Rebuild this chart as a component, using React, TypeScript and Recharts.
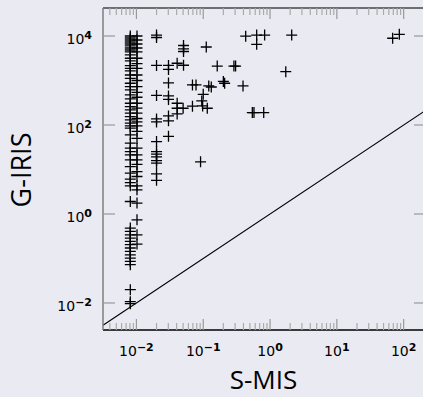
import React from 'react';
import { ScatterChart, Scatter, XAxis, YAxis, ReferenceLine } from 'recharts';

// ---------- data ----------
const xMajorTicks = [0.01, 0.1, 1, 10, 100];
const xMajorLabels = ['\u22122', '\u22121', '0', '1', '2'];
const yMajorTicks = [0.01, 1, 100, 10000];
const yMajorLabels = ['\u22122', '0', '2', '4'];
const minorMultipliers = [2, 3, 4, 5, 6, 7, 8, 9];
const minorDecades = [0.001, 0.01, 0.1, 1, 10, 100];
const xDomain = [0.00316, 216];
const yDomain = [0.00247, 42600];

const colAX = 0.0081;
const colAY = [10000, 9020, 8130, 7340, 6620, 5970, 5380, 4850, 4380, 3750, 3160, 2750, 2150, 1880, 1640, 1330, 1120, 867, 728, 614, 474, 385, 308, 259, 218, 184, 155, 130, 110, 95.5, 84.8, 60, 39.1, 30.1, 25.3, 21.3, 16.5, 11.6, 8.28, 6.07, 5.09, 4.3, 1.91, 0.483, 0.405, 0.341, 0.288, 0.242, 0.204, 0.172, 0.144, 0.121, 0.102, 0.0859, 0.0725, 0.0199, 0.0107, 0.00964];
const colBX = 0.0102;
const colBY = [10000, 8130, 6620, 5380, 4380, 3160, 2400, 1880, 1330, 1000, 728, 540, 420, 308, 240, 184, 140, 117, 95.5, 72, 50, 30.1, 21.3, 16.5, 13, 9.0, 6.95, 4.3, 3.49, 1.76, 0.741, 0.341, 0.211];
const col2X = 0.02;
const col2Y = [10500, 9250, 2180, 462, 137, 117, 42.4, 25.3, 22.1, 19.2, 15.9, 13.9, 8.0, 5.7];
const col3X = 0.0302;
const col3Y = [2180, 1770, 881, 450, 376, 160, 124, 55.5];
const otherX = [0.432, 0.631, 0.83, 0.631, 2.11, 68.4, 86.1, 0.0507, 0.0507, 0.0507, 0.111, 0.0407, 0.0507, 0.162, 0.288, 0.305, 1.72, 0.069, 0.078, 0.121, 0.132, 0.2, 0.209, 0.394, 0.1, 0.095, 0.098, 0.115, 0.069, 0.0407, 0.0407, 0.05, 0.0407, 0.543, 0.575, 0.804, 0.0912];
const otherY = [9900, 10500, 10500, 6500, 10500, 8900, 10900, 6120, 5160, 4490, 5660, 2440, 2200, 2110, 2110, 2110, 1580, 794, 794, 755, 715, 955, 867, 755, 490, 348, 268, 238, 265, 308, 238, 238, 177, 190, 190, 190, 14.9];

// ---------- derived tables ----------
const column = (x: number, ys: number[]) => ys.map((y) => ({ x, y }));
const seriesA = column(colAX, colAY);
const seriesB = column(colBX, colBY);
const series2 = column(col2X, col2Y);
const series3 = column(col3X, col3Y);
const seriesOther = otherX.map((x, i) => ({ x, y: otherY[i] }));

const xMinorTicks = minorDecades
  .flatMap((d) => minorMultipliers.map((m) => +(d * m).toPrecision(6)))
  .filter((v) => v >= xDomain[0] && v <= xDomain[1]);
const xTicks = [...xMajorTicks, ...xMinorTicks].sort((a, b) => a - b);

// ---------- layout ----------
const W = 426;
const H = 397;
const LEFT = 103;
const TOP = 8;
const XAXIS_H = 67;
const PLOT_W = W - LEFT;
const PLOT_H = H - TOP - XAXIS_H;
const BG = '#eaeaf2';
const FONT = 'DejaVu Sans, sans-serif';
const LABEL_FONT = '"Open Sans", sans-serif';

const majorIndex = (list: number[], v: number) => list.findIndex((m) => Math.abs(m - v) / m < 1e-6);

const XTick = (props: any) => {
  const { x, y, payload } = props;
  const idx = majorIndex(xMajorTicks, payload.value);
  const major = idx >= 0;
  const len = major ? 11 : 7;
  const col = major ? '#999' : '#aaa';
  return (
    <g>
      <line x1={x} y1={y} x2={x} y2={y - len} stroke={col} strokeWidth={1.2} />
      <line x1={x} y1={y - PLOT_H} x2={x} y2={y - PLOT_H + len} stroke={col} strokeWidth={1.2} />
      {major && (
        <text x={x} y={y + 25.5} textAnchor="middle" fontFamily={FONT} fontSize={14} fill="#000">
          <tspan>10</tspan>
          <tspan dy={-5} fontSize={11} fontWeight="bold">{xMajorLabels[idx]}</tspan>
        </text>
      )}
    </g>
  );
};

const YTick = (props: any) => {
  const { x, y, payload } = props;
  const idx = majorIndex(yMajorTicks, payload.value);
  if (idx < 0) return null;
  return (
    <g>
      <line x1={x} y1={y} x2={x + 12} y2={y} stroke="#999" strokeWidth={1.2} />
      <line x1={x + PLOT_W - 12} y1={y} x2={x + PLOT_W} y2={y} stroke="#999" strokeWidth={1.2} />
      <text x={x - 11} y={y + 8} textAnchor="end" fontFamily={FONT} fontSize={14} fill="#000">
        <tspan>10</tspan>
        <tspan dy={-5} fontSize={11} fontWeight="bold">{yMajorLabels[idx]}</tspan>
      </text>
    </g>
  );
};

const Plus = (props: any) => {
  const { cx, cy } = props;
  if (cx == null || cy == null) return null;
  const r = 5.5;
  return (
    <path
      d={`M${cx - r},${cy}H${cx + r}M${cx},${cy - r}V${cy + r}`}
      stroke="#000"
      strokeWidth={1.3}
      fill="none"
    />
  );
};

const XLabel = (props: any) => {
  const vb = props.viewBox;
  return (
    <text x={vb.x + vb.width / 2 - 1} y={vb.y + 59} textAnchor="middle" fontFamily={LABEL_FONT} fontSize={26} fill="#000">
      S-MIS
    </text>
  );
};

const YLabel = (props: any) => {
  const vb = props.viewBox;
  const cy = vb.y + vb.height / 2 + 1;
  return (
    <text x={31} y={cy} transform={`rotate(-90, 31, ${cy})`} textAnchor="middle" fontFamily={LABEL_FONT} fontSize={27} fill="#000">
      G-IRIS
    </text>
  );
};

export default function App() {
  return (
    <div style={{ width: 423, height: 397, overflow: 'hidden', background: BG }}>
      <style>{`body{margin:0;background:${BG};}`}</style>
      <ScatterChart width={W} height={H} margin={{ top: TOP, right: 0, bottom: 0, left: 0 }}>
        <XAxis
          dataKey="x"
          type="number"
          scale="log"
          domain={xDomain}
          allowDataOverflow
          ticks={xTicks}
          interval={0}
          tick={<XTick />}
          tickSize={0}
          tickMargin={0}
          tickLine={false}
          height={XAXIS_H}
          axisLine={{ stroke: '#000', strokeWidth: 1.4 }}
          label={<XLabel />}
        />
        <YAxis
          dataKey="y"
          type="number"
          scale="log"
          domain={yDomain}
          allowDataOverflow
          ticks={yMajorTicks}
          interval={0}
          tick={<YTick />}
          tickSize={0}
          tickMargin={0}
          tickLine={false}
          width={LEFT}
          axisLine={{ stroke: '#777', strokeWidth: 1.4 }}
          label={<YLabel />}
        />
        <ReferenceLine y={yDomain[1]} stroke="#444" strokeWidth={1.4} />
        <ReferenceLine x={xDomain[1]} stroke="#444" strokeWidth={1.4} />
        <ReferenceLine
          segment={[
            { x: xDomain[0], y: xDomain[0] },
            { x: xDomain[1], y: xDomain[1] },
          ]}
          stroke="#000"
          strokeWidth={1.1}
        />
        <Scatter data={seriesA} shape={<Plus />} isAnimationActive={false} />
        <Scatter data={seriesB} shape={<Plus />} isAnimationActive={false} />
        <Scatter data={series2} shape={<Plus />} isAnimationActive={false} />
        <Scatter data={series3} shape={<Plus />} isAnimationActive={false} />
        <Scatter data={seriesOther} shape={<Plus />} isAnimationActive={false} />
      </ScatterChart>
    </div>
  );
}
